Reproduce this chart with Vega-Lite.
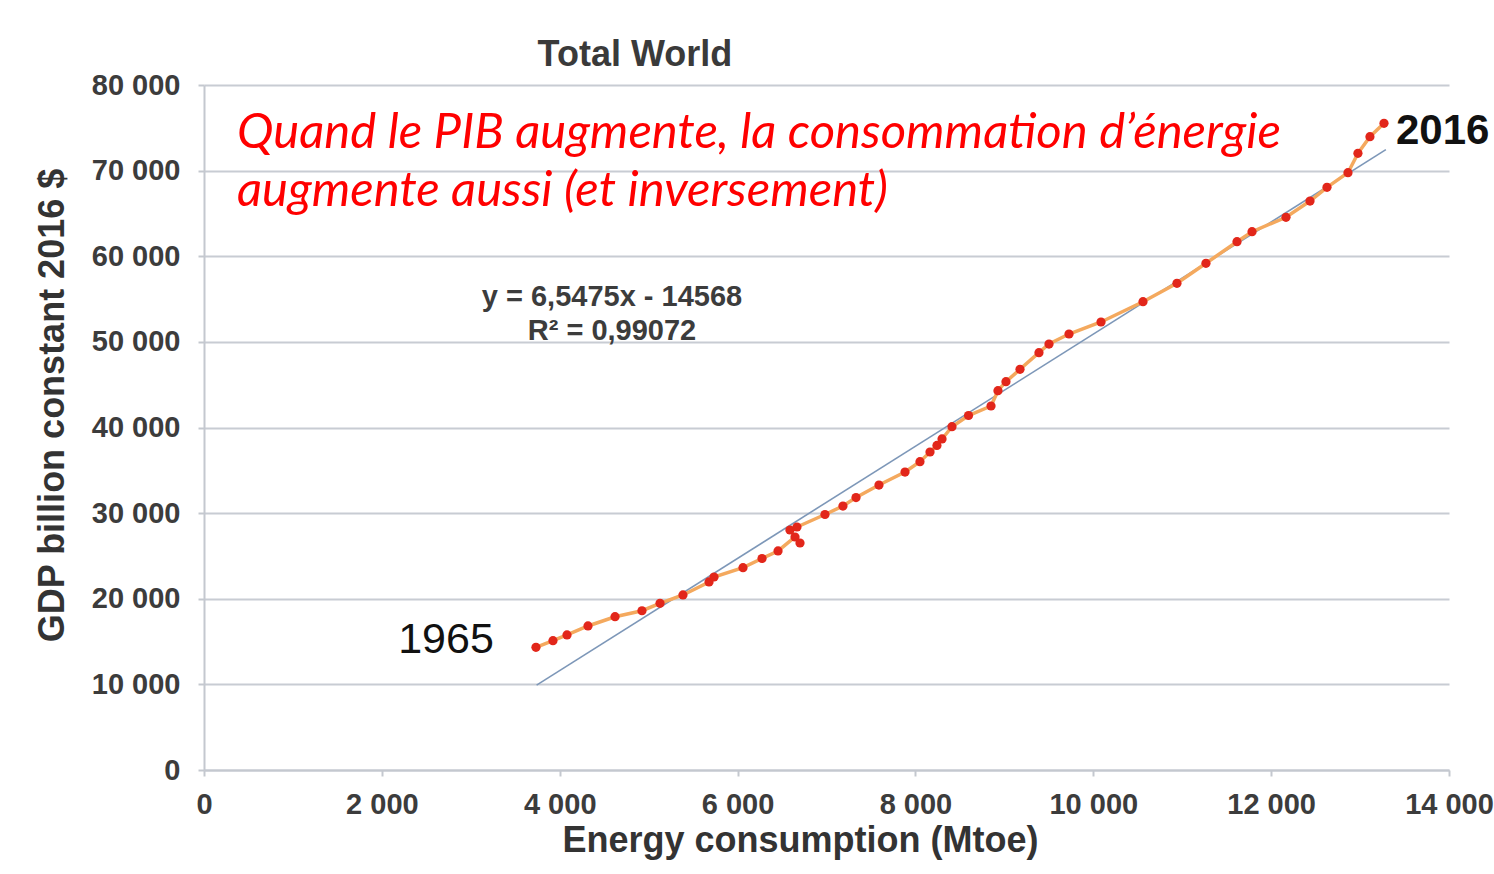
{
  "$schema": "https://vega.github.io/schema/vega-lite/v6.json",
  "width": 1245,
  "height": 685,
  "autosize": "none",
  "padding": {"left": 204, "top": 85, "right": 45, "bottom": 104},
  "background": "white",
  "config": {
    "view": {"stroke": null},
    "font": "Liberation Sans"
  },
  "datasets": {
    "series": [
      {"n": 1, "energy": 3733, "gdp": 14330},
      {"n": 2, "energy": 3924, "gdp": 15100},
      {"n": 3, "energy": 4082, "gdp": 15770},
      {"n": 4, "energy": 4318, "gdp": 16820},
      {"n": 5, "energy": 4622, "gdp": 17900},
      {"n": 6, "energy": 4925, "gdp": 18600},
      {"n": 7, "energy": 5128, "gdp": 19470},
      {"n": 8, "energy": 5386, "gdp": 20440},
      {"n": 9, "energy": 5679, "gdp": 21960},
      {"n": 10, "energy": 5735, "gdp": 22540},
      {"n": 11, "energy": 6061, "gdp": 23630},
      {"n": 12, "energy": 6275, "gdp": 24700},
      {"n": 13, "energy": 6455, "gdp": 25580},
      {"n": 14, "energy": 6646, "gdp": 27210},
      {"n": 15, "energy": 6702, "gdp": 26510},
      {"n": 16, "energy": 6589, "gdp": 28030},
      {"n": 17, "energy": 6668, "gdp": 28380},
      {"n": 18, "energy": 6983, "gdp": 29840},
      {"n": 19, "energy": 7185, "gdp": 30830},
      {"n": 20, "energy": 7332, "gdp": 31820},
      {"n": 21, "energy": 7590, "gdp": 33280},
      {"n": 22, "energy": 7883, "gdp": 34800},
      {"n": 23, "energy": 8051, "gdp": 36010},
      {"n": 24, "energy": 8164, "gdp": 37140},
      {"n": 25, "energy": 8242, "gdp": 37900},
      {"n": 26, "energy": 8299, "gdp": 38660},
      {"n": 27, "energy": 8411, "gdp": 40090},
      {"n": 28, "energy": 8597, "gdp": 41400},
      {"n": 29, "energy": 8850, "gdp": 42510},
      {"n": 30, "energy": 8928, "gdp": 44300},
      {"n": 31, "energy": 9018, "gdp": 45350},
      {"n": 32, "energy": 9176, "gdp": 46800},
      {"n": 33, "energy": 9389, "gdp": 48740},
      {"n": 34, "energy": 9502, "gdp": 49750},
      {"n": 35, "energy": 9727, "gdp": 50920},
      {"n": 36, "energy": 10087, "gdp": 52320},
      {"n": 37, "energy": 10559, "gdp": 54690},
      {"n": 38, "energy": 10941, "gdp": 56840},
      {"n": 39, "energy": 11267, "gdp": 59180},
      {"n": 40, "energy": 11616, "gdp": 61700},
      {"n": 41, "energy": 11785, "gdp": 62870},
      {"n": 42, "energy": 12167, "gdp": 64550},
      {"n": 43, "energy": 12437, "gdp": 66450},
      {"n": 44, "energy": 12628, "gdp": 68050},
      {"n": 45, "energy": 12864, "gdp": 69760},
      {"n": 46, "energy": 12976, "gdp": 72020},
      {"n": 47, "energy": 13111, "gdp": 73960},
      {"n": 48, "energy": 13269, "gdp": 75530}
    ],
    "fit": [
      {"energy": 3740, "gdp": 9920},
      {"energy": 13290, "gdp": 72448}
    ]
  },
  "layer": [
    {
      "data": {"name": "fit"},
      "mark": {"type": "line", "color": "#7d97b8", "strokeWidth": 1.6},
      "encoding": {
        "x": {
          "field": "energy", "type": "quantitative",
          "scale": {"domain": [0, 14000], "nice": false},
          "axis": {
            "values": [0, 2000, 4000, 6000, 8000, 10000, 12000, 14000],
            "labelExpr": "replace(format(datum.value, ','), ',', ' ')",
            "labelFlush": false,
            "grid": false,
            "domainColor": "#c4c8cf", "domainWidth": 2,
            "tickColor": "#c4c8cf", "tickWidth": 2, "tickSize": 6,
            "labelFont": "Liberation Sans", "labelFontWeight": "bold", "labelFontSize": 29,
            "labelColor": "#3c3c3c", "labelPadding": 14,
            "title": "Energy consumption (Mtoe)",
            "titleFont": "Liberation Sans", "titleFontWeight": "bold", "titleFontSize": 36,
            "titleColor": "#333333",
            "titleX": 596, "titleY": 81, "titleBaseline": "alphabetic", "titleAlign": "center"
          }
        },
        "y": {
          "field": "gdp", "type": "quantitative",
          "scale": {"domain": [0, 80000], "nice": false},
          "axis": {
            "values": [0, 10000, 20000, 30000, 40000, 50000, 60000, 70000, 80000],
            "labelExpr": "replace(format(datum.value, ','), ',', ' ')",
            "labelFlush": false,
            "grid": true, "gridColor": "#c8ccd3", "gridWidth": 2,
            "domainColor": "#c4c8cf", "domainWidth": 2,
            "tickColor": "#c4c8cf", "tickWidth": 2, "tickSize": 6,
            "labelFont": "Liberation Sans", "labelFontWeight": "bold", "labelFontSize": 29,
            "labelColor": "#3c3c3c", "labelPadding": 18,
            "title": "GDP billion constant 2016 $",
            "titleFont": "Liberation Sans", "titleFontWeight": "bold", "titleFontSize": 36,
            "titleColor": "#333333",
            "titleX": -152, "titleY": 320, "titleAngle": -90,
            "titleBaseline": "middle", "titleAlign": "center"
          }
        }
      }
    },
    {
      "data": {"name": "series"},
      "mark": {"type": "line", "color": "#f4a95e", "strokeWidth": 3.5},
      "encoding": {
        "x": {"field": "energy", "type": "quantitative"},
        "y": {"field": "gdp", "type": "quantitative"},
        "order": {"field": "n", "type": "quantitative"}
      }
    },
    {
      "data": {"name": "series"},
      "mark": {"type": "circle", "color": "#e2261a", "size": 85, "opacity": 1},
      "encoding": {
        "x": {"field": "energy", "type": "quantitative"},
        "y": {"field": "gdp", "type": "quantitative"}
      }
    },
    {
      "data": {"values": [{"label": "Total World", "energy": 4846, "gdp": 83500}]},
      "mark": {"type": "text", "font": "Liberation Sans", "fontWeight": "bold", "fontSize": 36, "color": "#3a3a3a", "align": "center", "baseline": "middle"},
      "encoding": {
        "x": {"field": "energy", "type": "quantitative"},
        "y": {"field": "gdp", "type": "quantitative"},
        "text": {"field": "label"}
      }
    },
    {
      "data": {"values": [
        {"label": "Quand le PIB augmente, la consommation d’énergie", "energy": 371, "gdp": 72640},
        {"label": "augmente aussi (et inversement)", "energy": 371, "gdp": 65870}
      ]},
      "mark": {"type": "text", "font": "Lato", "fontStyle": "italic", "fontSize": 49, "color": "#ff0000", "align": "left", "baseline": "alphabetic"},
      "encoding": {
        "x": {"field": "energy", "type": "quantitative"},
        "y": {"field": "gdp", "type": "quantitative"},
        "text": {"field": "label"}
      }
    },
    {
      "data": {"values": [
        {"label": "y = 6,5475x - 14568", "energy": 4588, "gdp": 55240},
        {"label": "R² = 0,99072", "energy": 4588, "gdp": 51270}
      ]},
      "mark": {"type": "text", "font": "Liberation Sans", "fontWeight": "bold", "fontSize": 29, "color": "#3c3c3c", "align": "center", "baseline": "middle"},
      "encoding": {
        "x": {"field": "energy", "type": "quantitative"},
        "y": {"field": "gdp", "type": "quantitative"},
        "text": {"field": "label"}
      }
    },
    {
      "data": {"values": [{"label": "1965", "energy": 2721, "gdp": 15180}]},
      "mark": {"type": "text", "font": "Liberation Sans", "fontSize": 43, "color": "#111111", "align": "center", "baseline": "middle"},
      "encoding": {
        "x": {"field": "energy", "type": "quantitative"},
        "y": {"field": "gdp", "type": "quantitative"},
        "text": {"field": "label"}
      }
    },
    {
      "data": {"values": [{"label": "2016", "energy": 13404, "gdp": 74630}]},
      "mark": {"type": "text", "font": "Liberation Sans", "fontWeight": "bold", "fontSize": 42, "color": "#111111", "align": "left", "baseline": "middle"},
      "encoding": {
        "x": {"field": "energy", "type": "quantitative"},
        "y": {"field": "gdp", "type": "quantitative"},
        "text": {"field": "label"}
      }
    }
  ]
}
